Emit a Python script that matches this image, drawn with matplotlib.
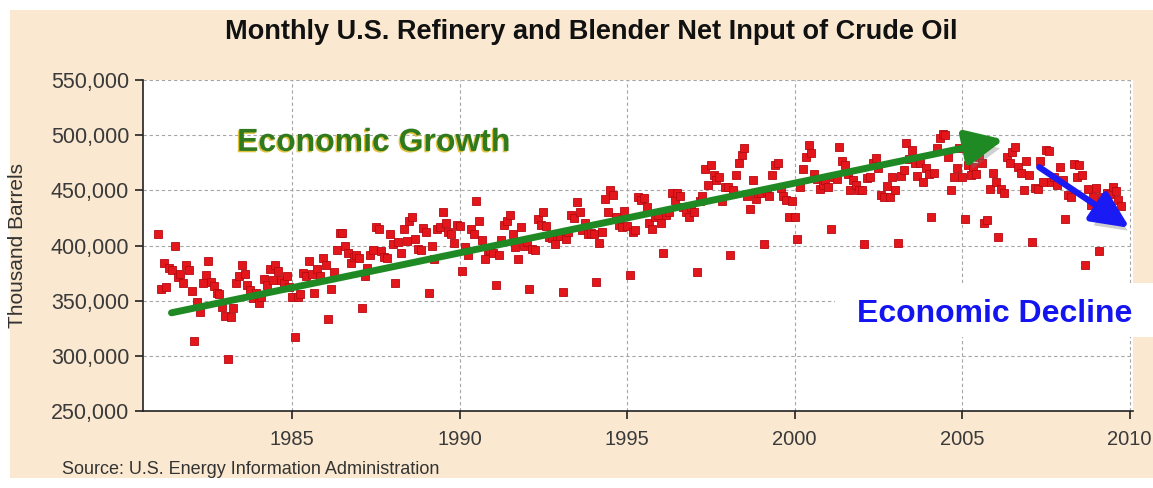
import matplotlib.pyplot as plt
import matplotlib.patheffects as pe
from matplotlib.patches import Rectangle
from matplotlib.ticker import FuncFormatter

# Monthly refinery + blender net input of crude oil, thousand barrels
# (in thousands of the axis unit, Jan..Dec)
in_1981 = [410, 361, 384, 362, 380, 378, 400, 371, 374, 366, 382, 378]
in_1982 = [359, 313, 349, 340, 366, 373, 386, 367, 363, 357, 356, 344]
in_1983 = [336, 297, 335, 343, 366, 372, 382, 374, 364, 360, 352, 357]
in_1984 = [348, 353, 370, 364, 379, 369, 382, 377, 369, 366, 372, 362]
in_1985 = [353, 317, 353, 356, 375, 372, 386, 374, 357, 379, 372, 389]
in_1986 = [382, 333, 361, 376, 396, 411, 411, 400, 393, 384, 390, 391]
in_1987 = [389, 343, 372, 380, 391, 396, 417, 415, 395, 390, 389, 410]
in_1988 = [401, 366, 403, 393, 415, 404, 422, 426, 406, 397, 396, 416]
in_1989 = [412, 357, 400, 388, 415, 417, 430, 420, 412, 410, 402, 419]
in_1990 = [418, 377, 399, 391, 415, 410, 440, 422, 405, 388, 395, 396]
in_1991 = [393, 364, 391, 405, 419, 422, 428, 410, 399, 388, 417, 400]
in_1992 = [403, 361, 397, 396, 424, 419, 430, 418, 408, 407, 401, 409]
in_1993 = [409, 358, 406, 412, 428, 425, 439, 430, 414, 420, 410, 411]
in_1994 = [410, 367, 402, 412, 442, 430, 450, 446, 426, 419, 417, 431]
in_1995 = [418, 373, 412, 414, 444, 441, 443, 435, 420, 415, 426, 428]
in_1996 = [420, 393, 428, 430, 448, 441, 448, 445, 435, 430, 426, 435]
in_1997 = [430, 376, 440, 445, 469, 455, 473, 464, 459, 462, 440, 453]
in_1998 = [453, 391, 450, 464, 475, 482, 488, 445, 433, 459, 442, 448]
in_1999 = [448, 401, 449, 445, 464, 473, 475, 452, 445, 441, 426, 440]
in_2000 = [426, 406, 453, 469, 480, 491, 484, 465, 460, 451, 455, 459]
in_2001 = [453, 415, 462, 460, 489, 477, 473, 465, 450, 459, 455, 450]
in_2002 = [450, 401, 461, 462, 475, 479, 470, 446, 444, 454, 444, 462]
in_2003 = [450, 402, 463, 468, 493, 478, 487, 475, 463, 475, 458, 470]
in_2004 = [465, 426, 466, 488, 497, 501, 500, 480, 450, 462, 470, 488]
in_2005 = [462, 424, 473, 464, 471, 465, 480, 475, 420, 423, 451, 466]
in_2006 = [458, 408, 451, 448, 480, 475, 485, 489, 471, 466, 450, 477]
in_2007 = [464, 403, 452, 451, 477, 458, 487, 486, 458, 462, 455, 471]
in_2008 = [459, 424, 446, 444, 474, 462, 473, 464, 382, 451, 437, 444]
in_2009 = [452, 395, 444, 439, 448, 447, 453, 449, 441, 436]

yearly = [in_1981, in_1982, in_1983, in_1984, in_1985, in_1986, in_1987,
          in_1988, in_1989, in_1990, in_1991, in_1992, in_1993, in_1994,
          in_1995, in_1996, in_1997, in_1998, in_1999, in_2000, in_2001,
          in_2002, in_2003, in_2004, in_2005, in_2006, in_2007, in_2008,
          in_2009]

x_ticks = [1985, 1990, 1995, 2000, 2005, 2010]
y_ticks = [250000, 300000, 350000, 400000, 450000, 500000, 550000]

t, v = [], []
for k, vals in enumerate(yearly):
    for m, val in enumerate(vals):
        t.append(1981 + k + m / 12)
        v.append(val * 1000)

W, H = 1153, 488
fig = plt.figure(figsize=(W / 100, H / 100), dpi=100, facecolor='white')

# peach panel behind everything
fig.patches.append(Rectangle((10 / W, 10 / H), 1, 468 / H, transform=fig.transFigure,
                             facecolor='#FAE8D0', edgecolor='none', zorder=-10))

ax = fig.add_axes([143 / W, (H - 411) / H, 990 / W, 331 / H])
ax.set_facecolor('white')
ax.plot(t, v, 's', ms=5.2, mfc='#E3161B', mec='#B50A10', mew=0.6, zorder=3)

ax.set_xlim(1980.55, 2010.1)
ax.set_ylim(250000, 550000)
ax.set_xticks(x_ticks)
ax.set_yticks(y_ticks)
ax.yaxis.set_major_formatter(FuncFormatter(lambda val, pos: f'{val:,.0f}'))
ax.grid(True, color='#a5a5a5', ls=(0, (3, 2.5)), lw=0.8)
ax.set_axisbelow(True)
for s in ['top', 'right']:
    ax.spines[s].set_visible(False)
for s in ['left', 'bottom']:
    ax.spines[s].set_color('#222222')
    ax.spines[s].set_linewidth(1.2)
ax.tick_params(axis='both', direction='out', length=6, color='#222222', width=1.2)
ax.tick_params(axis='y', labelsize=15.5, labelcolor='#3a3a3a', pad=4)
ax.tick_params(axis='x', labelsize=14.5, labelcolor='#3a3a3a', pad=8)
for lab in ax.get_yticklabels() + ax.get_xticklabels():
    lab.set_family(['Liberation Sans', 'DejaVu Sans'])

shadow = [pe.SimplePatchShadow(offset=(3, -5), shadow_rgbFace='#777777', alpha=0.35), pe.Normal()]

# trend arrows
g = ax.annotate('', xy=(2006.25, 496000), xytext=(1981.4, 339000),
                arrowprops=dict(arrowstyle='-|>,head_length=0.75,head_width=0.35',
                                lw=5, color='#1F8A24', mutation_scale=30,
                                shrinkA=0, shrinkB=0))
g.arrow_patch.set_path_effects(shadow)
b = ax.annotate('', xy=(2010.0, 416000), xytext=(2007.3, 471000),
                arrowprops=dict(arrowstyle='-|>,head_length=0.75,head_width=0.35',
                                lw=4.5, color='#1A1AF5', mutation_scale=30,
                                shrinkA=0, shrinkB=0), annotation_clip=False)
b.arrow_patch.set_path_effects(shadow)

ax.text(1983.36, 493000, 'Economic Growth', color='#2F7A1F', fontsize=23,
        fontweight='bold', family=['Liberation Sans', 'DejaVu Sans'],
        ha='left', va='center', zorder=5,
        path_effects=[pe.withSimplePatchShadow(offset=(-1, -1), shadow_rgbFace='#E2C23C', alpha=1)])

# white box behind the decline label
fig.patches.append(Rectangle((835 / W, (H - 337) / H), 1, 54 / H, transform=fig.transFigure,
                             facecolor='white', edgecolor='none', zorder=5))
fig.text(857 / W, (H - 314) / H, 'Economic Decline', color='#1414F0', fontsize=23,
         fontweight='bold', family=['Liberation Sans', 'DejaVu Sans'],
         ha='left', va='center', zorder=6)

fig.text(591 / W, (H - 32) / H, 'Monthly U.S. Refinery and Blender Net Input of Crude Oil',
         fontsize=19.5, fontweight='bold', color='#111111',
         family=['Liberation Sans', 'DejaVu Sans'],
         ha='center', va='center')
fig.text(18 / W, (H - 245) / H, 'Thousand Barrels', rotation=90, fontsize=15,
         color='#333333', family=['Liberation Sans', 'DejaVu Sans'],
         ha='center', va='center')
fig.text(62 / W, (H - 470) / H, 'Source: U.S. Energy Information Administration',
         fontsize=13, color='#333333', family=['Liberation Sans', 'DejaVu Sans'],
         ha='left', va='center')

fig.savefig('out.png', dpi=100, facecolor=fig.get_facecolor())
